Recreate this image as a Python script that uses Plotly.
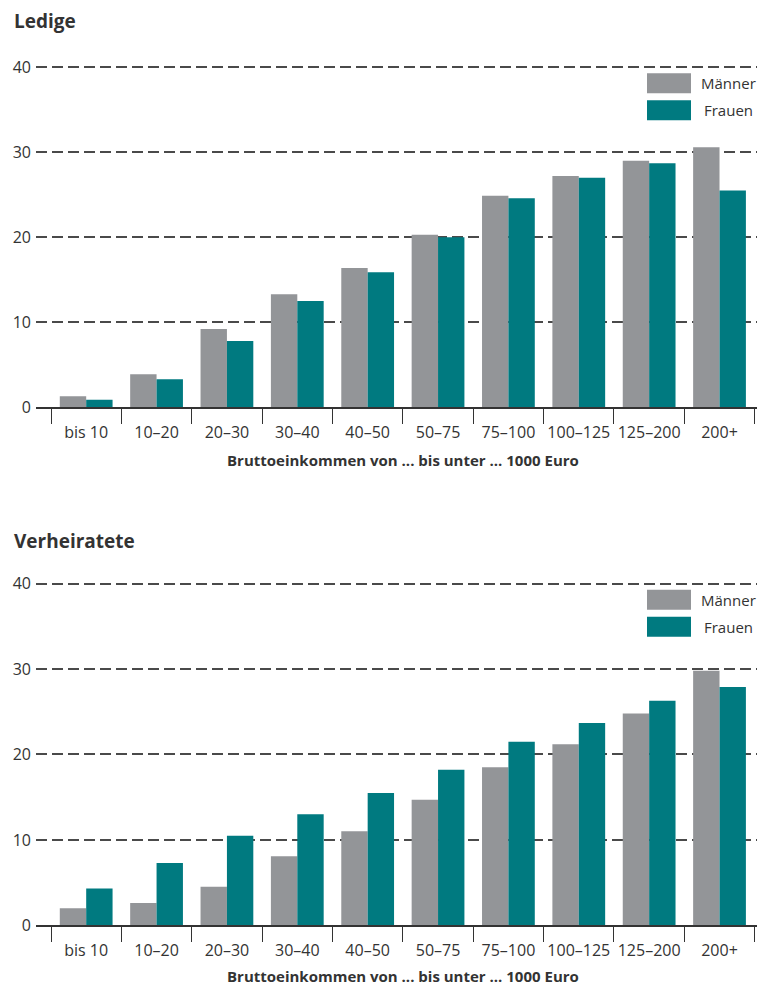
import plotly.graph_objects as go

categories = ["bis 10", "10–20", "20–30", "30–40", "40–50", "50–75", "75–100", "100–125", "125–200", "200+"]
ledige_maenner = [1.3, 3.9, 9.2, 13.3, 16.4, 20.3, 24.9, 27.2, 29.0, 30.6]
ledige_frauen = [0.9, 3.3, 7.8, 12.5, 15.9, 20.0, 24.6, 27.0, 28.7, 25.5]
verh_maenner = [2.0, 2.6, 4.5, 8.1, 11.0, 14.7, 18.5, 21.2, 24.8, 29.8]
verh_frauen = [4.3, 7.3, 10.5, 13.0, 15.5, 18.2, 21.5, 23.7, 26.3, 27.9]
series_names = ["Männer", "Frauen"]
panel_titles = ["Ledige", "Verheiratete"]
x_title = "Bruttoeinkommen von ... bis unter ... 1000 Euro"
y_ticks = [0, 10, 20, 30, 40]

W, H = 757, 987
GRAY = "#939598"
TEAL = "#007A80"
TEXT = "#333333"
FONT = "Open Sans"

def px_y(p):
    return 1 - p / H

def px_x(p):
    return p / W

fig = go.Figure()

for xa, ya, ym, yf in [("x", "y", ledige_maenner, ledige_frauen), ("x2", "y2", verh_maenner, verh_frauen)]:
    fig.add_trace(go.Bar(x=categories, y=ym, name=series_names[0], marker=dict(color=GRAY, line=dict(width=0)),
                         xaxis=xa, yaxis=ya, showlegend=False))
    fig.add_trace(go.Bar(x=categories, y=yf, name=series_names[1], marker=dict(color=TEAL, line=dict(width=0)),
                         xaxis=xa, yaxis=ya, showlegend=False))

x_dom = [px_x(36), 1.0]
x_range = [-0.5 - 15 / 70.37, 9.5 + 2.3 / 70.37]
YMAX = 40.3
top_dom = [px_y(407.3), px_y(407.3 - 8.5 * YMAX)]
bot_dom = [px_y(925.3), px_y(925.3 - 8.54 * YMAX)]

xcommon = dict(type="category", range=x_range, domain=x_dom, showgrid=False, zeroline=False,
               showline=True, linecolor="#333333", linewidth=1.5, tickangle=0,
               ticks="outside", tickson="boundaries", ticklen=15, tickwidth=1.2, tickcolor="#333333",
               ticklabelstandoff=10,
               tickfont=dict(family=FONT, size=16, color=TEXT), automargin=False, fixedrange=True)
ycommon = dict(range=[0, YMAX], tickvals=y_ticks, showgrid=True, gridcolor="#4a4a4a", gridwidth=1.6,
               griddash="11px,5px", zeroline=False, showline=False, ticks="",
               tickfont=dict(family=FONT, size=16, color=TEXT), ticklabelstandoff=4,
               automargin=False, fixedrange=True)

fig.update_layout(
    width=W, height=H,
    margin=dict(l=0, r=0, t=0, b=0),
    paper_bgcolor="white", plot_bgcolor="white",
    barmode="group", bargap=0.25, bargroupgap=0,
    xaxis=dict(**xcommon, anchor="y"),
    yaxis=dict(**ycommon, domain=top_dom, anchor="x"),
    xaxis2=dict(**xcommon, anchor="y2"),
    yaxis2=dict(**ycommon, domain=bot_dom, anchor="x2"),
    font=dict(family=FONT, color=TEXT),
)

annotations = []
shapes = []
for i, (title, ytitle_px, yxt_px) in enumerate([
        (panel_titles[0], 21, 460), (panel_titles[1], 541, 976)]):
    annotations.append(dict(text="<b>%s</b>" % title, x=px_x(12), y=px_y(ytitle_px), xref="paper", yref="paper",
                            xanchor="left", yanchor="middle", showarrow=False,
                            font=dict(family=FONT, size=19, color=TEXT)))
    annotations.append(dict(text="<b>%s</b>" % x_title, x=px_x(403), y=px_y(yxt_px), xref="paper", yref="paper",
                            xanchor="center", yanchor="middle", showarrow=False,
                            font=dict(family=FONT, size=15, color=TEXT)))
    top_px = 67.3 if i == 0 else 583.7
    for j, (nm, col) in enumerate(zip(series_names, [GRAY, TEAL])):
        y0p = top_px + 6 + j * 27
        y1p = y0p + 20
        shapes.append(dict(type="rect", xref="paper", yref="paper", x0=px_x(647), x1=px_x(691),
                           y0=px_y(y1p), y1=px_y(y0p), fillcolor=col, line=dict(width=0)))
        annotations.append(dict(text=nm, xref="paper", yref="paper", x=px_x(728), y=px_y((y0p + y1p) / 2),
                                xanchor="center", yanchor="middle", showarrow=False,
                                font=dict(family=FONT, size=15, color=TEXT)))

fig.update_layout(annotations=annotations, shapes=shapes)
fig.write_html("out.html", config={"displayModeBar": False},
               post_script="document.body.style.margin='0';document.body.style.overflow='hidden';")
